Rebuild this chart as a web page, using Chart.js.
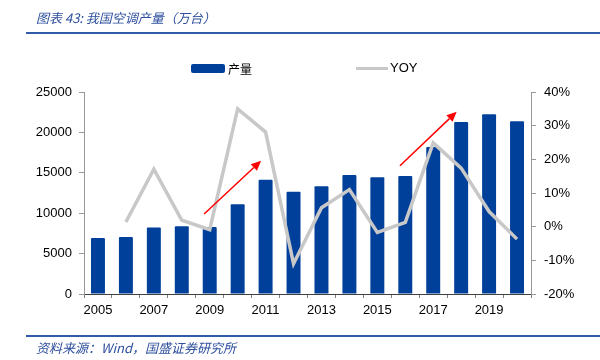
<!DOCTYPE html>
<html>
<head>
<meta charset="utf-8">
<script src="https://cdn.jsdelivr.net/npm/chart.js@4/dist/chart.umd.min.js"></script>
<style>
  html, body { margin:0; padding:0; background:#fff; }
  #wrap { position:relative; width:600px; height:360px; overflow:hidden; background:#fff; }
  canvas { position:absolute; left:0; top:0; }
  .cap { position:absolute; font-style:italic; color:#2D4F9E; font-family:"Noto Sans CJK SC","DejaVu Sans",sans-serif; font-size:13px; white-space:nowrap; }
  .rule { position:absolute; left:26px; width:574px; height:2px; background:#2F5BA9; }
  .lg { position:absolute; font-family:"Noto Sans CJK SC","DejaVu Sans",sans-serif; font-size:12px; color:#000; white-space:nowrap; }
</style>
</head>
<body>
<div id="wrap">
  <canvas id="c" width="600" height="360"></canvas>
  <div class="cap" style="left:36px;top:8px;">图表 43: 我国空调产量（万台）</div>
  <div class="rule" style="top:32px;"></div>
  <div class="rule" style="top:335px;"></div>
  <div class="cap" style="left:36px;top:338px;">资料来源：Wind，国盛证券研究所</div>
  <div style="position:absolute;left:191px;top:64px;width:34px;height:9px;background:#00409A;border-radius:2px;"></div>
  <div class="lg" style="left:228px;top:60px;">产量</div>
  <div style="position:absolute;left:356px;top:67px;width:32px;height:3px;background:#C8C8C8;"></div>
  <div class="lg" style="left:390px;top:60px;font-family:'Liberation Sans',sans-serif;font-size:13px;">YOY</div>
</div>
<script>
const years = ['2005','2006','2007','2008','2009','2010','2011','2012','2013','2014','2015','2016','2017','2018','2019','2020'];
const output = [6930, 7050, 8240, 8370, 8290, 11100, 14150, 12660, 13350, 14730, 14440, 14600, 18190, 21280, 22240, 21370];
const yoy = [null, 1.4, 17.1, 1.9, -0.9, 35.0, 28.1, -11.0, 5.6, 11.0, -1.7, 1.3, 24.9, 17.4, 4.5, -3.7];
const leftTicks = [0, 5000, 10000, 15000, 20000, 25000];
const rightTicks = [-20, -10, 0, 10, 20, 30, 40];
// red trend arrows in data space: [fromIndex, fromValue, toIndex, toValue] on left axis
const arrows = [
  [3.80, 9900, 5.84, 16500],
  [10.81, 15880, 12.84, 22560]
];

const arrowPlugin = {
  id: 'arrows',
  afterDatasetsDraw(chart) {
    const ctx = chart.ctx, xs = chart.scales.x, ys = chart.scales.y;
    ctx.save();
    ctx.strokeStyle = '#FF0000';
    ctx.fillStyle = '#FF0000';
    ctx.lineWidth = 1.5;
    arrows.forEach(a => {
      const x1 = xs.getPixelForValue(a[0]), y1 = ys.getPixelForValue(a[1]);
      const x2 = xs.getPixelForValue(a[2]), y2 = ys.getPixelForValue(a[3]);
      const ang = Math.atan2(y2 - y1, x2 - x1);
      const hl = 10, hw = 4.5;
      const bx = x2 - hl * Math.cos(ang), by = y2 - hl * Math.sin(ang);
      ctx.beginPath();
      ctx.moveTo(x1, y1);
      ctx.lineTo(bx, by);
      ctx.stroke();
      ctx.beginPath();
      ctx.moveTo(x2, y2);
      ctx.lineTo(bx + hw * Math.sin(ang), by - hw * Math.cos(ang));
      ctx.lineTo(bx - hw * Math.sin(ang), by + hw * Math.cos(ang));
      ctx.closePath();
      ctx.fill();
    });
    ctx.restore();
  }
};

const tickFont = { family: 'Liberation Sans', size: 13 };

new Chart(document.getElementById('c'), {
  data: {
    labels: years,
    datasets: [
      {
        type: 'line', label: 'YOY', data: yoy, yAxisID: 'y1', order: 0,
        borderColor: '#C8C8C8', borderWidth: 3.5, pointRadius: 0, tension: 0,
        spanGaps: false, fill: false
      },
      {
        type: 'bar', label: '产量', data: output, yAxisID: 'y', order: 1,
        backgroundColor: '#00409A', borderRadius: 1,
        barPercentage: 0.5, categoryPercentage: 1.0
      }
    ]
  },
  options: {
    responsive: false,
    animation: false,
    layout: { padding: { top: 92, left: 0, right: 0, bottom: 0 } },
    plugins: { legend: { display: false }, tooltip: { enabled: false } },
    scales: {
      x: {
        offset: true,
        grid: { display: true, drawOnChartArea: false, drawTicks: true, tickLength: 4, color: '#808080', offset: true },
        border: { display: true, color: '#404040', width: 1 },
        ticks: {
          autoSkip: false, maxRotation: 0, padding: 5, color: '#000', font: tickFont,
          callback: function(v, i) { return i % 2 === 0 ? years[i] : ''; }
        },
        afterFit(s) { s.height = 66; }
      },
      y: {
        position: 'left', min: 0, max: 25000,
        afterBuildTicks(s) { s.ticks = leftTicks.map(v => ({ value: v })); },
        grid: { display: true, drawOnChartArea: false, drawTicks: true, tickLength: 5, color: '#999' },
        border: { display: true, color: '#999', width: 1 },
        ticks: { padding: 7, color: '#000', font: tickFont, callback: v => String(v) },
        afterFit(s) { s.width = 84; }
      },
      y1: {
        position: 'right', min: -20, max: 40,
        afterBuildTicks(s) { s.ticks = rightTicks.map(v => ({ value: v })); },
        grid: { display: true, drawOnChartArea: false, drawTicks: true, tickLength: 5, color: '#999' },
        border: { display: true, color: '#999', width: 1 },
        ticks: { padding: 8, color: '#000', font: tickFont, callback: v => v + '%' },
        afterFit(s) { s.width = 69; }
      }
    }
  },
  plugins: [arrowPlugin]
});
</script>
</body>
</html>
